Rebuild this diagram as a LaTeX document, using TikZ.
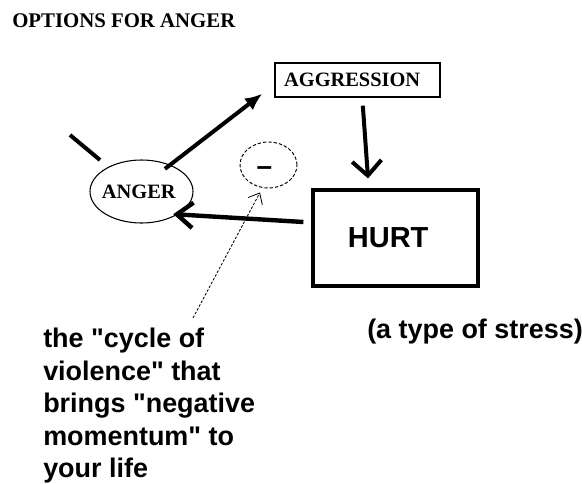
\documentclass[tikz,border=0pt]{standalone}
\usepackage{fontspec}
\setmainfont{Liberation Serif}
\setsansfont{Liberation Sans}[Ligatures=TeXOff]
\usetikzlibrary{arrows.meta,shapes.geometric}
\begin{document}
\begin{tikzpicture}[x=0.75pt,y=-0.75pt,
  titlefont/.style={font=\rmfamily\bfseries\fontsize{15.6pt}{18pt}\selectfont},
  serifb/.style={font=\rmfamily\bfseries\fontsize{15.3pt}{18pt}\selectfont},
  sansbig/.style={font=\sffamily\bfseries\fontsize{21.75pt}{26pt}\selectfont},
  sansb/.style={font=\sffamily\bfseries\fontsize{20.2pt}{24.4pt}\selectfont},
  thickline/.style={line width=3pt},
  boxthin/.style={draw, line width=1pt, inner sep=0pt},
  boxthick/.style={draw, line width=2.4pt, inner sep=0pt},
]
\useasboundingbox (0,0) rectangle (582,483);
\fill[white] (0,0) rectangle (582,483);

% title
\node[titlefont, anchor=base west, inner sep=0pt] (title) at (12,27) {OPTIONS FOR ANGER};

% nodes
\node[ellipse, draw, line width=0.8pt, serifb, minimum width=77.25pt, minimum height=47.25pt, inner sep=0pt] (anger) at (141.5,191.5) {\hspace{-4pt}ANGER};
\node[boxthin, serifb, minimum width=123.75pt, minimum height=25.5pt] (agg) at (357.5,80) {\hspace{-8pt}AGGRESSION};
\node[boxthick, sansbig, minimum width=123.75pt, minimum height=72pt] (hurt) at (395.5,238) {\hspace{-11pt}HURT};
\node[ellipse, draw, dash pattern=on 2.5pt off 1.5pt, line width=0.7pt, minimum width=42.75pt, minimum height=34.5pt, inner sep=0pt, font=\sffamily\bfseries\fontsize{21pt}{24pt}\selectfont] (neg) at (268.5,165) {\hspace{-6pt}\raisebox{-8pt}[0pt][0pt]{–}};

\node[sansb, align=left, anchor=north west, inner sep=0pt] (txt) at (43,328)
  {the "cycle of\\violence" that\\brings "negative\\momentum" to\\your life};
\node[sansb, anchor=base west, inner sep=0pt] (stress) at (367,338) {(a type of stress)};

% free stroke
\coordinate (s1) at (70,135);
\coordinate (s2) at (100,160);
\draw[thickline] (s1) -- (s2);

% connectors
\draw[thickline, -{Latex[length=13pt,width=11pt]}]
  ([xshift=-10pt]anger.north east) -- ([xshift=-9pt,yshift=3pt]agg.south west);
\draw[thickline, -{Straight Barb[length=11pt,width=22pt]}]
  ([xshift=4pt,yshift=-6pt]agg.south) -- ([xshift=-20.6pt,yshift=7.5pt]hurt.north);
\draw[line width=3.3pt, -{Straight Barb[length=12pt,width=19pt]}]
  ([xshift=-6pt,yshift=12pt]hurt.west) -- ([xshift=-3.75pt]anger.south east);
\draw[line width=0.6pt, dash pattern=on 2pt off 1.2pt, -{Straight Barb[length=7pt,width=12pt]}]
  ([xshift=112.5pt,yshift=7.5pt]txt.north west) -- ([xshift=-6.4pt,yshift=-3pt]neg.south);
\end{tikzpicture}
\end{document}
